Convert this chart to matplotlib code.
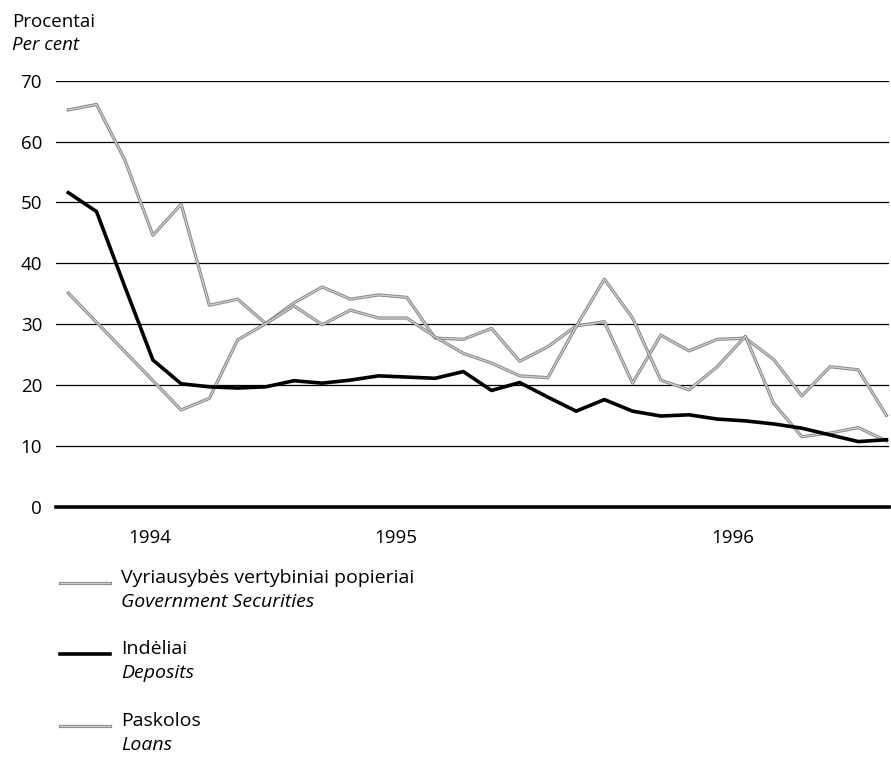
import matplotlib
matplotlib.use("Agg")
import matplotlib.pyplot as plt
import matplotlib.patheffects as pe
from matplotlib.lines import Line2D
import numpy as np

plt.rcParams['font.family'] = ['Open Sans', 'DejaVu Sans']

# monthly observations, Dec 1993 .. 1996
period = np.arange(30)
gov_securities = [65.2, 66.1, 57.0, 44.6, 49.7, 33.1, 34.1, 30.1, 33.5, 36.1,
                  34.1, 34.8, 34.4, 27.7, 27.5, 29.3, 23.9, 26.3, 29.7, 30.4,
                  20.3, 28.2, 25.6, 27.5, 27.7, 24.2, 18.2, 23.0, 22.5, 15.0]
deposits = [51.6, 48.5, 36.2, 24.1, 20.2, 19.7, 19.5, 19.7, 20.7, 20.3,
            20.8, 21.5, 21.3, 21.1, 22.2, 19.1, 20.4, 18.0, 15.7, 17.6,
            15.7, 14.9, 15.1, 14.4, 14.1, 13.6, 12.9, 11.8, 10.7, 11.0]
loans = [35.1, 30.3, 25.5, 20.7, 15.9, 17.8, 27.4, 30.1, 33.0, 29.9,
         32.3, 31.0, 31.0, 27.9, 25.2, 23.6, 21.5, 21.2, 29.6, 37.4,
         31.0, 20.8, 19.2, 23.0, 28.0, 17.0, 11.5, 12.1, 13.0, 10.8]
year_pos = [2.9, 11.6, 23.55]
year_labels = ["1994", "1995", "1996"]
y_ticks = [0, 10, 20, 30, 40, 50, 60, 70]

W, H = 891, 760
FS = 13.5
fig = plt.figure(figsize=(W / 100, H / 100), dpi=100)
ax = fig.add_axes([56 / W, 1 - 506.7 / H, (889 - 56) / W, (506.7 - 80.7) / H])
ax.set_xlim(-0.436, 29.09)
ax.set_ylim(0, 70)
for s in ax.spines.values():
    s.set_visible(False)

for y in y_ticks[1:]:
    ax.axhline(y, color="black", lw=0.9, zorder=1)
ax.axhline(0, color="black", lw=2.6, zorder=1, clip_on=False)

gray_fx = [pe.Stroke(linewidth=2.3, foreground="#888888"), pe.Normal()]
ax.plot(period, gov_securities, color="#cfcfcf", lw=0.9, zorder=3,
        path_effects=gray_fx, clip_on=False)
ax.plot(period, loans, color="#cfcfcf", lw=0.9, zorder=3,
        path_effects=gray_fx, clip_on=False)
ax.plot(period, deposits, color="black", lw=2.6, zorder=4, clip_on=False)

ax.set_yticks(y_ticks)
ax.set_yticklabels([str(v) for v in y_ticks], fontsize=FS)
ax.set_xticks(year_pos)
ax.set_xticklabels(year_labels, fontsize=FS)
ax.tick_params(axis="y", length=0, pad=10)
ax.tick_params(axis="x", length=0, pad=16)

fig.text(12 / W, 1 - 22 / H, "Procentai", fontsize=FS, va="center", ha="left")
fig.text(12 / W, 1 - 45 / H, "Per cent", fontsize=FS, style="italic",
         va="center", ha="left")

# hand-made legend under the plot
entries = [
    ("Vyriausybės vertybiniai popieriai", "Government Securities", 578, "gray"),
    ("Indėliai", "Deposits", 649, "black"),
    ("Paskolos", "Loans", 721, "gray"),
]
for lt, en, yc, kind in entries:
    ly = 1 - (yc + 5) / H
    if kind == "black":
        ln = Line2D([60 / W, 110 / W], [ly, ly], transform=fig.transFigure,
                    color="black", lw=2.6)
    else:
        ln = Line2D([60 / W, 110 / W], [ly, ly], transform=fig.transFigure,
                    color="#cfcfcf", lw=0.9, path_effects=gray_fx)
    fig.add_artist(ln)
    fig.text(121 / W, 1 - yc / H, lt, fontsize=14, va="center", ha="left")
    fig.text(121 / W, 1 - (yc + 24) / H, en, fontsize=14, style="italic",
             va="center", ha="left")

fig.savefig("out.png", dpi=100)
